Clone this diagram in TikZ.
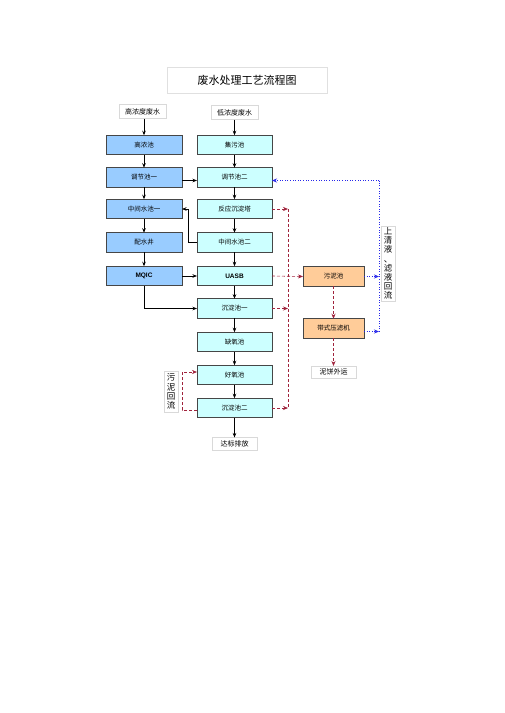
\documentclass[tikz,border=0pt]{standalone}
\usepackage{fontspec}
\setmainfont{Noto Sans CJK SC}
\newfontfamily\arialf{Liberation Sans}
\usetikzlibrary{arrows.meta,calc}
\definecolor{lblue}{RGB}{153,204,255}
\definecolor{lcyan}{RGB}{204,255,255}
\definecolor{lorange}{RGB}{255,204,153}
\definecolor{bord}{RGB}{70,70,70}
\definecolor{sred}{RGB}{160,35,60}
\definecolor{rblue}{RGB}{40,40,235}
\begin{document}
\begin{tikzpicture}[x=1pt,y=-1pt,
  every node/.style={inner sep=0pt,outer sep=0pt},
  bluebox/.style={draw=bord,line width=0.6pt,fill=lblue,minimum width=76pt,minimum height=19.5pt,font=\fontsize{6.5}{7}\selectfont},
  cyanbox/.style={draw=bord,line width=0.6pt,fill=lcyan,minimum width=75pt,minimum height=19.5pt,font=\fontsize{6.5}{7}\selectfont},
  orbox/.style={draw=bord,line width=0.6pt,fill=lorange,minimum width=61pt,minimum height=19.5pt,font=\fontsize{6.5}{7}\selectfont},
  lblbox/.style={draw=black!15,line width=0.4pt,fill=white,minimum height=14pt,font=\fontsize{7}{8}\selectfont},
  vtext/.style={draw=black!15,line width=0.4pt,fill=white,align=center,font=\fontsize{8.5}{9.2}\selectfont,inner sep=1.5pt},
  flow/.style={line width=0.6pt,black,-{Stealth[length=4.5pt,width=3.5pt]}},
  sludge/.style={line width=0.6pt,sred,dash pattern=on 3pt off 2pt,-{Stealth[length=5pt,width=4pt]}},
  sludgeline/.style={line width=0.6pt,sred,dash pattern=on 3pt off 2pt},
  ret/.style={line width=0.6pt,rblue,dotted,-{Stealth[length=5pt,width=4pt]}},
  retline/.style={line width=0.6pt,rblue,dotted}]
\useasboundingbox (0,0) rectangle (504,713);
\fill[white] (0,0) rectangle (504,713);

% title
\node[draw=black!12,line width=0.4pt,minimum width=160pt,minimum height=26pt,font=\fontsize{11}{12}\selectfont] (title) at (247,80) {废水处理工艺流程图};

% source labels
\node[lblbox,minimum width=47pt] (src1) at (142.5,111.5) {高浓度废水};
\node[lblbox,minimum width=47pt] (src2) at (234.5,112.5) {低浓度废水};

% left column
\node[bluebox] (gn) at (144,145) {高浓池};
\node[bluebox] (t1) at (144,177.5) {调节池一};
\node[bluebox] (m1) at (144,209) {中间水池一};
\node[bluebox] (ps) at (144,242.5) {配水井};
\node[bluebox,font=\arialf\bfseries\fontsize{6.5}{7}\selectfont] (mq) at (144,276) {MQIC};

% right column
\node[cyanbox] (jw) at (234.5,145) {集污池};
\node[cyanbox] (t2) at (234.5,177.5) {调节池二};
\node[cyanbox] (fy) at (234.5,209) {反应沉淀塔};
\node[cyanbox] (m2) at (234.5,242.5) {中间水池二};
\node[cyanbox,font=\arialf\bfseries\fontsize{6.5}{7}\selectfont] (ua) at (234.5,276) {UASB};
\node[cyanbox] (c1) at (234.5,308.5) {沉淀池一};
\node[cyanbox] (qy) at (234.5,342) {缺氧池};
\node[cyanbox] (hy) at (234.5,375) {好氧池};
\node[cyanbox] (c2) at (234.5,408) {沉淀池二};
\node[lblbox,minimum width=45pt,minimum height=13pt] (out) at (234.5,444) {达标排放};

% sludge side
\node[orbox] (wn) at (333.5,276.5) {污泥池};
\node[orbox] (yl) at (333.5,328.5) {带式压滤机};
\node[lblbox,minimum width=45pt,minimum height=12pt] (nb) at (333.5,372) {泥饼外运};

% vertical labels
\node[vtext,minimum width=14pt,minimum height=73pt] (hl) at (388,263.5) {上\\清\\液\\、\\滤\\液\\回\\流};
\node[vtext,minimum width=14pt,minimum height=41pt] (wl) at (171,391.5) {污\\泥\\回\\流};

% black flows
\draw[flow] (src1.south -| gn) -- (gn);
\draw[flow] (src2) -- (jw);
\draw[flow] (gn) -- (t1);
\draw[flow] (t1) -- (m1);
\draw[flow] (m1) -- (ps);
\draw[flow] (ps) -- (mq);
\draw[flow] (jw) -- (t2);
\draw[flow] (t2) -- (fy);
\draw[flow] (fy) -- (m2);
\draw[flow] (m2) -- (ua);
\draw[flow] (ua) -- (c1);
\draw[flow] (c1) -- (qy);
\draw[flow] (qy) -- (hy);
\draw[flow] (hy) -- (c2);
\draw[flow] (c2) -- (out);
\draw[flow] ([yshift=-3pt]t1.east) -- ([yshift=-3pt]t2.west);
\draw[flow] (mq) -- (ua);
\draw[flow] (m2.west) -- ++(-9,0) |- (m1.east);
\draw[flow] (mq.south) |- (c1.west);

% sludge (red dashed)
\coordinate (rv) at (288,0);
\draw[sludgeline] (fy.east -| rv) -- (c2.east -| rv);
\draw[sludge] (fy.east) -- (fy.east -| rv);
\draw[sludge] (c1.east) -- (c1.east -| rv);
\draw[sludge] (c2.east) -- (c2.east -| rv);
\draw[sludge] (ua.east) -- (wn.west);
\draw[sludge] (wn) -- (yl);
\draw[sludge] (yl) -- (nb);
\draw[sludge] ([yshift=-2pt]c2.west) -- ++(-15,0) |- ([yshift=3pt]hy.west);

% return (blue dotted)
\coordinate (bx) at (379,0);
\draw[ret] (wn.east) -- (wn.east -| bx);
\draw[ret] ([yshift=-3pt]yl.east) -- ([yshift=-3pt]yl.east -| bx);
\draw[retline] ([yshift=-3pt]yl.east -| bx) -- ([yshift=-3pt]t2.east -| bx);
\draw[ret] ([yshift=-3pt]t2.east -| bx) -- ([yshift=-3pt]t2.east);
\end{tikzpicture}
\end{document}
